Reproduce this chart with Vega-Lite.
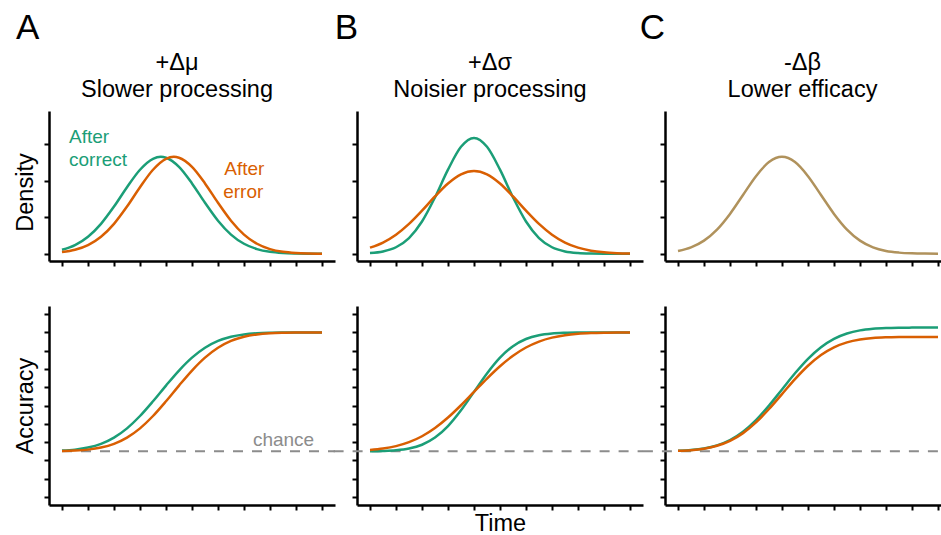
{
  "$schema": "https://vega.github.io/schema/vega-lite/v6.json",
  "padding": {"left": 13, "top": 10, "right": 0, "bottom": 0},
  "config": {
    "view": {"stroke": null},
    "font": "Liberation Sans",
    "axis": {"labels": false, "grid": false, "domainColor": "#000000", "domainWidth": 2.5, "tickColor": "#000000", "tickWidth": 2, "tickSize": 5, "titleFontSize": 23.5, "titleFontWeight": "normal", "titleColor": "#000000", "titleFont": "Liberation Sans"},
    "title": {"fontSize": 23.5, "fontWeight": "normal", "color": "#000000", "lineHeight": 27.5, "offset": -91, "frame": "group", "anchor": "middle", "font": "Liberation Sans"},
    "text": {"font": "Liberation Sans"}
  },
  "datasets": {
    "dens": [
      {"p":"A","s":"correct","x":0,"y":0.107},{"p":"A","s":"correct","x":0.5,"y":0.236},{"p":"A","s":"correct","x":1,"y":0.466},{"p":"A","s":"correct","x":1.5,"y":0.821},{"p":"A","s":"correct","x":2,"y":1.295},{"p":"A","s":"correct","x":2.5,"y":1.827},{"p":"A","s":"correct","x":3,"y":2.307},{"p":"A","s":"correct","x":3.5,"y":2.607},{"p":"A","s":"correct","x":3.8,"y":2.66},{"p":"A","s":"correct","x":4,"y":2.636},{"p":"A","s":"correct","x":4.5,"y":2.385},{"p":"A","s":"correct","x":5,"y":1.931},{"p":"A","s":"correct","x":5.5,"y":1.4},{"p":"A","s":"correct","x":6,"y":0.907},{"p":"A","s":"correct","x":6.5,"y":0.526},{"p":"A","s":"correct","x":7,"y":0.273},{"p":"A","s":"correct","x":7.5,"y":0.127},{"p":"A","s":"correct","x":8,"y":0.053},{"p":"A","s":"correct","x":8.5,"y":0.02},{"p":"A","s":"correct","x":9,"y":0.007},{"p":"A","s":"correct","x":9.5,"y":0.002},{"p":"A","s":"correct","x":10,"y":0.001},
      {"p":"A","s":"error","x":0,"y":0.044},{"p":"A","s":"error","x":0.5,"y":0.107},{"p":"A","s":"error","x":1,"y":0.236},{"p":"A","s":"error","x":1.5,"y":0.466},{"p":"A","s":"error","x":2,"y":0.821},{"p":"A","s":"error","x":2.5,"y":1.295},{"p":"A","s":"error","x":3,"y":1.827},{"p":"A","s":"error","x":3.5,"y":2.307},{"p":"A","s":"error","x":4,"y":2.607},{"p":"A","s":"error","x":4.3,"y":2.66},{"p":"A","s":"error","x":4.5,"y":2.636},{"p":"A","s":"error","x":5,"y":2.385},{"p":"A","s":"error","x":5.5,"y":1.931},{"p":"A","s":"error","x":6,"y":1.4},{"p":"A","s":"error","x":6.5,"y":0.907},{"p":"A","s":"error","x":7,"y":0.526},{"p":"A","s":"error","x":7.5,"y":0.273},{"p":"A","s":"error","x":8,"y":0.127},{"p":"A","s":"error","x":8.5,"y":0.053},{"p":"A","s":"error","x":9,"y":0.02},{"p":"A","s":"error","x":9.5,"y":0.007},{"p":"A","s":"error","x":10,"y":0.002},
      {"p":"B","s":"correct","x":0,"y":0.019},{"p":"B","s":"correct","x":0.5,"y":0.063},{"p":"B","s":"correct","x":1,"y":0.178},{"p":"B","s":"correct","x":1.5,"y":0.43},{"p":"B","s":"correct","x":2,"y":0.884},{"p":"B","s":"correct","x":2.5,"y":1.548},{"p":"B","s":"correct","x":3,"y":2.309},{"p":"B","s":"correct","x":3.5,"y":2.936},{"p":"B","s":"correct","x":4,"y":3.18},{"p":"B","s":"correct","x":4.5,"y":2.936},{"p":"B","s":"correct","x":5,"y":2.309},{"p":"B","s":"correct","x":5.5,"y":1.548},{"p":"B","s":"correct","x":6,"y":0.884},{"p":"B","s":"correct","x":6.5,"y":0.43},{"p":"B","s":"correct","x":7,"y":0.178},{"p":"B","s":"correct","x":7.5,"y":0.063},{"p":"B","s":"correct","x":8,"y":0.019},{"p":"B","s":"correct","x":8.5,"y":0.005},{"p":"B","s":"correct","x":9,"y":0.001},{"p":"B","s":"correct","x":9.5,"y":0},{"p":"B","s":"correct","x":10,"y":0},
      {"p":"B","s":"error","x":0,"y":0.167},{"p":"B","s":"error","x":0.5,"y":0.307},{"p":"B","s":"error","x":1,"y":0.522},{"p":"B","s":"error","x":1.5,"y":0.818},{"p":"B","s":"error","x":2,"y":1.182},{"p":"B","s":"error","x":2.5,"y":1.572},{"p":"B","s":"error","x":3,"y":1.928},{"p":"B","s":"error","x":3.5,"y":2.179},{"p":"B","s":"error","x":4,"y":2.27},{"p":"B","s":"error","x":4.5,"y":2.179},{"p":"B","s":"error","x":5,"y":1.928},{"p":"B","s":"error","x":5.5,"y":1.572},{"p":"B","s":"error","x":6,"y":1.182},{"p":"B","s":"error","x":6.5,"y":0.818},{"p":"B","s":"error","x":7,"y":0.522},{"p":"B","s":"error","x":7.5,"y":0.307},{"p":"B","s":"error","x":8,"y":0.167},{"p":"B","s":"error","x":8.5,"y":0.083},{"p":"B","s":"error","x":9,"y":0.038},{"p":"B","s":"error","x":9.5,"y":0.016},{"p":"B","s":"error","x":10,"y":0.006},
      {"p":"C","s":"same","x":0,"y":0.076},{"p":"C","s":"same","x":0.5,"y":0.175},{"p":"C","s":"same","x":1,"y":0.36},{"p":"C","s":"same","x":1.5,"y":0.663},{"p":"C","s":"same","x":2,"y":1.094},{"p":"C","s":"same","x":2.5,"y":1.613},{"p":"C","s":"same","x":3,"y":2.13},{"p":"C","s":"same","x":3.5,"y":2.516},{"p":"C","s":"same","x":4,"y":2.66},{"p":"C","s":"same","x":4.5,"y":2.516},{"p":"C","s":"same","x":5,"y":2.13},{"p":"C","s":"same","x":5.5,"y":1.613},{"p":"C","s":"same","x":6,"y":1.094},{"p":"C","s":"same","x":6.5,"y":0.663},{"p":"C","s":"same","x":7,"y":0.36},{"p":"C","s":"same","x":7.5,"y":0.175},{"p":"C","s":"same","x":8,"y":0.076},{"p":"C","s":"same","x":8.5,"y":0.03},{"p":"C","s":"same","x":9,"y":0.01},{"p":"C","s":"same","x":9.5,"y":0.003},{"p":"C","s":"same","x":10,"y":0.001}
    ],
    "acc": [
      {"p":"A","s":"correct","x":0,"y":2.537},{"p":"A","s":"correct","x":0.5,"y":2.59},{"p":"A","s":"correct","x":1,"y":2.702},{"p":"A","s":"correct","x":1.5,"y":2.907},{"p":"A","s":"correct","x":2,"y":3.248},{"p":"A","s":"correct","x":2.5,"y":3.755},{"p":"A","s":"correct","x":3,"y":4.43},{"p":"A","s":"correct","x":3.5,"y":5.235},{"p":"A","s":"correct","x":4,"y":6.095},{"p":"A","s":"correct","x":4.5,"y":6.918},{"p":"A","s":"correct","x":5,"y":7.623},{"p":"A","s":"correct","x":5.5,"y":8.164},{"p":"A","s":"correct","x":6,"y":8.537},{"p":"A","s":"correct","x":6.5,"y":8.767},{"p":"A","s":"correct","x":7,"y":8.893},{"p":"A","s":"correct","x":7.5,"y":8.956},{"p":"A","s":"correct","x":8,"y":8.983},{"p":"A","s":"correct","x":8.5,"y":8.994},{"p":"A","s":"correct","x":9,"y":8.998},{"p":"A","s":"correct","x":9.5,"y":9.0},{"p":"A","s":"correct","x":10,"y":9.0},
      {"p":"A","s":"error","x":0,"y":2.513},{"p":"A","s":"error","x":0.5,"y":2.537},{"p":"A","s":"error","x":1,"y":2.59},{"p":"A","s":"error","x":1.5,"y":2.702},{"p":"A","s":"error","x":2,"y":2.907},{"p":"A","s":"error","x":2.5,"y":3.248},{"p":"A","s":"error","x":3,"y":3.755},{"p":"A","s":"error","x":3.5,"y":4.43},{"p":"A","s":"error","x":4,"y":5.235},{"p":"A","s":"error","x":4.5,"y":6.095},{"p":"A","s":"error","x":5,"y":6.918},{"p":"A","s":"error","x":5.5,"y":7.623},{"p":"A","s":"error","x":6,"y":8.164},{"p":"A","s":"error","x":6.5,"y":8.537},{"p":"A","s":"error","x":7,"y":8.767},{"p":"A","s":"error","x":7.5,"y":8.893},{"p":"A","s":"error","x":8,"y":8.956},{"p":"A","s":"error","x":8.5,"y":8.983},{"p":"A","s":"error","x":9,"y":8.994},{"p":"A","s":"error","x":9.5,"y":8.998},{"p":"A","s":"error","x":10,"y":9.0},
      {"p":"B","s":"correct","x":0,"y":2.504},{"p":"B","s":"correct","x":0.5,"y":2.517},{"p":"B","s":"correct","x":1,"y":2.553},{"p":"B","s":"correct","x":1.5,"y":2.648},{"p":"B","s":"correct","x":2,"y":2.856},{"p":"B","s":"correct","x":2.5,"y":3.248},{"p":"B","s":"correct","x":3,"y":3.877},{"p":"B","s":"correct","x":3.5,"y":4.74},{"p":"B","s":"correct","x":4,"y":5.75},{"p":"B","s":"correct","x":4.5,"y":6.76},{"p":"B","s":"correct","x":5,"y":7.623},{"p":"B","s":"correct","x":5.5,"y":8.252},{"p":"B","s":"correct","x":6,"y":8.644},{"p":"B","s":"correct","x":6.5,"y":8.852},{"p":"B","s":"correct","x":7,"y":8.947},{"p":"B","s":"correct","x":7.5,"y":8.983},{"p":"B","s":"correct","x":8,"y":8.996},{"p":"B","s":"correct","x":8.5,"y":9.0},{"p":"B","s":"correct","x":9,"y":9.0},{"p":"B","s":"correct","x":9.5,"y":9.0},{"p":"B","s":"correct","x":10,"y":9.0},
      {"p":"B","s":"error","x":0,"y":2.572},{"p":"B","s":"error","x":0.5,"y":2.648},{"p":"B","s":"error","x":1,"y":2.781},{"p":"B","s":"error","x":1.5,"y":2.997},{"p":"B","s":"error","x":2,"y":3.322},{"p":"B","s":"error","x":2.5,"y":3.772},{"p":"B","s":"error","x":3,"y":4.345},{"p":"B","s":"error","x":3.5,"y":5.019},{"p":"B","s":"error","x":4,"y":5.75},{"p":"B","s":"error","x":4.5,"y":6.481},{"p":"B","s":"error","x":5,"y":7.155},{"p":"B","s":"error","x":5.5,"y":7.728},{"p":"B","s":"error","x":6,"y":8.178},{"p":"B","s":"error","x":6.5,"y":8.503},{"p":"B","s":"error","x":7,"y":8.719},{"p":"B","s":"error","x":7.5,"y":8.852},{"p":"B","s":"error","x":8,"y":8.928},{"p":"B","s":"error","x":8.5,"y":8.967},{"p":"B","s":"error","x":9,"y":8.986},{"p":"B","s":"error","x":9.5,"y":8.995},{"p":"B","s":"error","x":10,"y":8.998},
      {"p":"C","s":"correct","x":0,"y":2.526},{"p":"C","s":"correct","x":0.5,"y":2.566},{"p":"C","s":"correct","x":1,"y":2.654},{"p":"C","s":"correct","x":1.5,"y":2.824},{"p":"C","s":"correct","x":2,"y":3.117},{"p":"C","s":"correct","x":2.5,"y":3.574},{"p":"C","s":"correct","x":3,"y":4.209},{"p":"C","s":"correct","x":3.5,"y":5.001},{"p":"C","s":"correct","x":4,"y":5.885},{"p":"C","s":"correct","x":4.5,"y":6.769},{"p":"C","s":"correct","x":5,"y":7.561},{"p":"C","s":"correct","x":5.5,"y":8.196},{"p":"C","s":"correct","x":6,"y":8.653},{"p":"C","s":"correct","x":6.5,"y":8.946},{"p":"C","s":"correct","x":7,"y":9.116},{"p":"C","s":"correct","x":7.5,"y":9.203},{"p":"C","s":"correct","x":8,"y":9.244},{"p":"C","s":"correct","x":8.5,"y":9.261},{"p":"C","s":"correct","x":9,"y":9.267},{"p":"C","s":"correct","x":9.5,"y":9.27},{"p":"C","s":"correct","x":10,"y":9.27},
      {"p":"C","s":"error","x":0,"y":2.524},{"p":"C","s":"error","x":0.5,"y":2.561},{"p":"C","s":"error","x":1,"y":2.643},{"p":"C","s":"error","x":1.5,"y":2.799},{"p":"C","s":"error","x":2,"y":3.071},{"p":"C","s":"error","x":2.5,"y":3.493},{"p":"C","s":"error","x":3,"y":4.081},{"p":"C","s":"error","x":3.5,"y":4.812},{"p":"C","s":"error","x":4,"y":5.63},{"p":"C","s":"error","x":4.5,"y":6.448},{"p":"C","s":"error","x":5,"y":7.179},{"p":"C","s":"error","x":5.5,"y":7.767},{"p":"C","s":"error","x":6,"y":8.189},{"p":"C","s":"error","x":6.5,"y":8.461},{"p":"C","s":"error","x":7,"y":8.617},{"p":"C","s":"error","x":7.5,"y":8.699},{"p":"C","s":"error","x":8,"y":8.736},{"p":"C","s":"error","x":8.5,"y":8.752},{"p":"C","s":"error","x":9,"y":8.757},{"p":"C","s":"error","x":9.5,"y":8.76},{"p":"C","s":"error","x":10,"y":8.76}
    ],
    "chance": [
      {"p":"A","x":0,"x2":10.5,"y":2.5},
      {"p":"B","x":-1.4,"x2":10.5,"y":2.5},
      {"p":"C","x":-1.35,"x2":10.154,"y":2.5}
    ],
    "notes": [
      {"p":"A","k":"letter","t":"A","x":-1.77,"y":5.9,"s":"label"},
      {"p":"B","k":"letter","t":"B","x":-1.36,"y":5.9,"s":"label"},
      {"p":"C","k":"letter","t":"C","x":-1.47,"y":5.9,"s":"label"},
      {"p":"A","k":"note","t":"After","x":0.27,"y":3.05,"s":"correct"},
      {"p":"A","k":"note","t":"correct","x":0.27,"y":2.4,"s":"correct"},
      {"p":"A","k":"note","t":"After","x":6.24,"y":2.15,"s":"error"},
      {"p":"A","k":"note","t":"error","x":6.2,"y":1.53,"s":"error"},
      {"p":"A","k":"chance","t":"chance","x":9.7,"y":2.77,"s":"chance"}
    ]
  },
  "columns": 3,
  "spacing": {"row": 45, "column": 22},
  "bounds": "flush",
  "concat": [
    {
      "width": 286, "height": 150,
      "title": {"text": ["+Δμ", "Slower processing"], "dx": -15},
      "layer": [
        {"data": {"name": "dens"}, "transform": [{"filter": "datum.p == 'A'"}],
         "mark": {"type": "line", "strokeWidth": 2.5, "interpolate": "monotone"},
         "encoding": {
           "x": {"field": "x", "type": "quantitative", "scale": {"domain": [-0.5, 10.5], "nice": false, "zero": false}, "axis": {"values": [0,1,2,3,4,5,6,7,8,9,10], "tickCount": 20, "title": null}},
           "y": {"field": "y", "type": "quantitative", "scale": {"domain": [-0.2, 3.92], "nice": false, "zero": false}, "axis": {"values": [0,1,2,3], "tickCount": 20, "title": "Density", "titlePadding": 6, "titleY": 81}},
           "color": {"field": "s", "type": "nominal", "scale": {"domain": ["correct","error","same","chance","label"], "range": ["#1b9e77","#d95f02","#b0925c","#8c8c8c","#000000"]}, "legend": null}
         }},
        {"data": {"name": "notes"}, "transform": [{"filter": "datum.p == 'A' && datum.k == 'note'"}],
         "mark": {"type": "text", "fontSize": 19, "align": "left", "baseline": "alphabetic"},
         "encoding": {"x": {"field": "x", "type": "quantitative"}, "y": {"field": "y", "type": "quantitative"}, "text": {"field": "t"}, "color": {"field": "s", "type": "nominal", "legend": null}}},
        {"data": {"name": "notes"}, "transform": [{"filter": "datum.p == 'A' && datum.k == 'letter'"}],
         "mark": {"type": "text", "fontSize": 35, "align": "left", "baseline": "alphabetic", "color": "#000000"},
         "encoding": {"x": {"field": "x", "type": "quantitative"}, "y": {"field": "y", "type": "quantitative"}, "text": {"field": "t"}}}
      ]
    },
    {
      "width": 286, "height": 150,
      "title": {"text": ["+Δσ", "Noisier processing"], "dx": -10},
      "layer": [
        {"data": {"name": "dens"}, "transform": [{"filter": "datum.p == 'B'"}],
         "mark": {"type": "line", "strokeWidth": 2.5, "interpolate": "monotone"},
         "encoding": {
           "x": {"field": "x", "type": "quantitative", "scale": {"domain": [-0.5, 10.5], "nice": false, "zero": false}, "axis": {"values": [0,1,2,3,4,5,6,7,8,9,10], "tickCount": 20, "title": null}},
           "y": {"field": "y", "type": "quantitative", "scale": {"domain": [-0.2, 3.92], "nice": false, "zero": false}, "axis": {"values": [0,1,2,3], "tickCount": 20, "title": null}},
           "color": {"field": "s", "type": "nominal", "legend": null}
         }},
        {"data": {"name": "notes"}, "transform": [{"filter": "datum.p == 'B' && datum.k == 'letter'"}],
         "mark": {"type": "text", "fontSize": 35, "align": "left", "baseline": "alphabetic", "color": "#000000"},
         "encoding": {"x": {"field": "x", "type": "quantitative"}, "y": {"field": "y", "type": "quantitative"}, "text": {"field": "t"}}}
      ]
    },
    {
      "width": 277, "height": 150,
      "title": {"text": ["-Δβ", "Lower efficacy"], "dx": -1},
      "layer": [
        {"data": {"name": "dens"}, "transform": [{"filter": "datum.p == 'C'"}],
         "mark": {"type": "line", "strokeWidth": 2.5, "interpolate": "monotone"},
         "encoding": {
           "x": {"field": "x", "type": "quantitative", "scale": {"domain": [-0.5, 10.154], "nice": false, "zero": false}, "axis": {"values": [0,1,2,3,4,5,6,7,8,9,10], "tickCount": 20, "title": null}},
           "y": {"field": "y", "type": "quantitative", "scale": {"domain": [-0.2, 3.92], "nice": false, "zero": false}, "axis": {"values": [0,1,2,3], "tickCount": 20, "title": null}},
           "color": {"field": "s", "type": "nominal", "legend": null}
         }},
        {"data": {"name": "notes"}, "transform": [{"filter": "datum.p == 'C' && datum.k == 'letter'"}],
         "mark": {"type": "text", "fontSize": 35, "align": "left", "baseline": "alphabetic", "color": "#000000"},
         "encoding": {"x": {"field": "x", "type": "quantitative"}, "y": {"field": "y", "type": "quantitative"}, "text": {"field": "t"}}}
      ]
    },
    {
      "width": 286, "height": 199,
      "layer": [
        {"data": {"name": "chance"}, "transform": [{"filter": "datum.p == 'A'"}],
         "mark": {"type": "rule", "color": "#8c8c8c", "strokeWidth": 2, "strokeDash": [10, 9]},
         "encoding": {
           "x": {"field": "x", "type": "quantitative", "scale": {"domain": [-0.5, 10.5], "nice": false, "zero": false}, "axis": {"values": [0,1,2,3,4,5,6,7,8,9,10], "tickCount": 20, "title": null}},
           "x2": {"field": "x2"},
           "y": {"field": "y", "type": "quantitative", "scale": {"domain": [-0.44, 10.45], "nice": false, "zero": false}, "axis": {"values": [0,1,2,3,4,5,6,7,8,9,10], "tickCount": 20, "title": "Accuracy", "titlePadding": 6}}
         }},
        {"data": {"name": "acc"}, "transform": [{"filter": "datum.p == 'A'"}],
         "mark": {"type": "line", "strokeWidth": 2.5, "interpolate": "monotone"},
         "encoding": {"x": {"field": "x", "type": "quantitative"}, "y": {"field": "y", "type": "quantitative"}, "color": {"field": "s", "type": "nominal", "legend": null}}},
        {"data": {"name": "notes"}, "transform": [{"filter": "datum.p == 'A' && datum.k == 'chance'"}],
         "mark": {"type": "text", "fontSize": 19, "align": "right", "baseline": "alphabetic", "color": "#8c8c8c"},
         "encoding": {"x": {"field": "x", "type": "quantitative"}, "y": {"field": "y", "type": "quantitative"}, "text": {"field": "t"}}}
      ]
    },
    {
      "width": 286, "height": 199,
      "layer": [
        {"data": {"name": "chance"}, "transform": [{"filter": "datum.p == 'B'"}],
         "mark": {"type": "rule", "color": "#8c8c8c", "strokeWidth": 2, "strokeDash": [10, 9]},
         "encoding": {
           "x": {"field": "x", "type": "quantitative", "scale": {"domain": [-0.5, 10.5], "nice": false, "zero": false}, "axis": {"values": [0,1,2,3,4,5,6,7,8,9,10], "tickCount": 20, "title": "Time", "titlePadding": 0}},
           "x2": {"field": "x2"},
           "y": {"field": "y", "type": "quantitative", "scale": {"domain": [-0.44, 10.45], "nice": false, "zero": false}, "axis": {"values": [0,1,2,3,4,5,6,7,8,9,10], "tickCount": 20, "title": null}}
         }},
        {"data": {"name": "acc"}, "transform": [{"filter": "datum.p == 'B'"}],
         "mark": {"type": "line", "strokeWidth": 2.5, "interpolate": "monotone"},
         "encoding": {"x": {"field": "x", "type": "quantitative"}, "y": {"field": "y", "type": "quantitative"}, "color": {"field": "s", "type": "nominal", "legend": null}}}
      ]
    },
    {
      "width": 277, "height": 199,
      "layer": [
        {"data": {"name": "chance"}, "transform": [{"filter": "datum.p == 'C'"}],
         "mark": {"type": "rule", "color": "#8c8c8c", "strokeWidth": 2, "strokeDash": [10, 9]},
         "encoding": {
           "x": {"field": "x", "type": "quantitative", "scale": {"domain": [-0.5, 10.154], "nice": false, "zero": false}, "axis": {"values": [0,1,2,3,4,5,6,7,8,9,10], "tickCount": 20, "title": null}},
           "x2": {"field": "x2"},
           "y": {"field": "y", "type": "quantitative", "scale": {"domain": [-0.44, 10.45], "nice": false, "zero": false}, "axis": {"values": [0,1,2,3,4,5,6,7,8,9,10], "tickCount": 20, "title": null}}
         }},
        {"data": {"name": "acc"}, "transform": [{"filter": "datum.p == 'C'"}],
         "mark": {"type": "line", "strokeWidth": 2.5, "interpolate": "monotone"},
         "encoding": {"x": {"field": "x", "type": "quantitative"}, "y": {"field": "y", "type": "quantitative"}, "color": {"field": "s", "type": "nominal", "legend": null}}}
      ]
    }
  ]
}
